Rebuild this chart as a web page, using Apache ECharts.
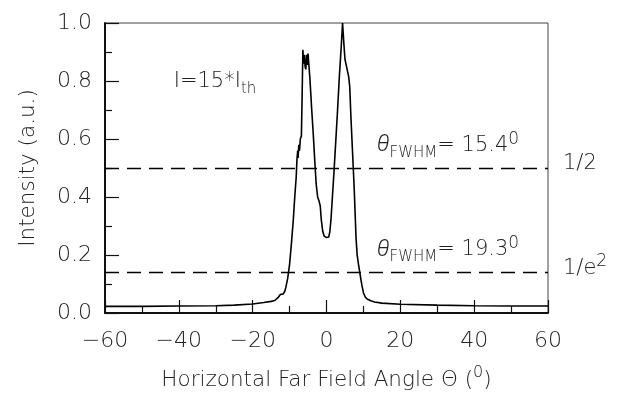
<!DOCTYPE html>
<html>
<head>
<meta charset="utf-8">
<script src="https://cdn.jsdelivr.net/npm/echarts@6/dist/echarts.min.js"></script>
<style>
  html, body { margin: 0; padding: 0; background: #fff; }
  #chart { width: 626px; height: 396px; }
</style>
</head>
<body>
<div id="chart"></div>
<script>
// Far-field profile: angle (degrees) vs normalised intensity
const angles = [
  -60, -50, -40, -30, -25, -20, -17, -15, -14, -13, -12.5, -12, -11.7, -11.3, -11,
  -10.5, -10, -9.5, -9, -8.6, -8.2, -8.0, -7.8, -7.7, -7.5, -7.3, -7.1, -6.8, -6.6,
  -6.4, -6.2, -6.0, -5.8, -5.6, -5.4, -5.2, -5.0, -4.8, -4.5, -4.0, -3.6, -3.2, -2.8,
  -2.4, -2.0, -1.7, -1.4, -1.0, -0.6, 0, 0.6, 0.9, 1.2, 1.6, 2.0, 2.5, 3.0, 3.5, 4.0,
  4.35, 4.7, 5.0, 5.5, 6.0, 6.3, 6.6, 7.0, 7.5, 8.0, 8.3, 8.7, 9.2, 9.6, 10.0, 10.5,
  11, 12, 13, 15, 20, 30, 40, 50, 60
];
const intensity = [
  0.023, 0.023, 0.024, 0.025, 0.027, 0.031, 0.036, 0.040, 0.043, 0.055, 0.064, 0.068, 0.066, 0.075, 0.089,
  0.12, 0.168, 0.24, 0.32, 0.40, 0.47, 0.53, 0.56, 0.535, 0.58, 0.56, 0.60, 0.61, 0.75,
  0.908, 0.86, 0.89, 0.85, 0.84, 0.89, 0.855, 0.895, 0.86, 0.81, 0.70, 0.62, 0.53, 0.445,
  0.40, 0.385, 0.37, 0.32, 0.28, 0.265, 0.26, 0.262, 0.28, 0.32, 0.40, 0.48, 0.59, 0.70, 0.82, 0.92,
  1.0, 0.93, 0.875, 0.845, 0.815, 0.78, 0.68, 0.57, 0.43, 0.26, 0.20, 0.165, 0.125, 0.095, 0.07, 0.055,
  0.048, 0.042, 0.038, 0.034, 0.030, 0.027, 0.025, 0.024, 0.024
];

// Reference levels: half maximum and 1/e^2
const levelValues = [0.5, 1 / Math.E / Math.E];
const levelNames = ['{m|1/2}', '{m|1/e}{sup|2}'];
const fwhmTexts = ['15.4', '19.3'];
const fwhmAnchors = [[32.9, 0.577], [32.9, 0.218]];
const currentLabel = '{m|I=15*I}{sub|th}';
const currentAnchor = [-30.2, 0.797];

const FONT = 'DejaVu Sans';
const W = 200;
const INK = '#222';

const rich = {
  m:   { fontFamily: FONT, fontWeight: W, fontSize: 21, color: INK, lineHeight: 30, verticalAlign: 'middle' },
  it:  { fontFamily: 'Roboto', fontWeight: 300, fontStyle: 'italic', fontSize: 23, color: INK, lineHeight: 30, verticalAlign: 'middle' },
  sub: { fontFamily: FONT, fontWeight: W, fontSize: 15, color: INK, lineHeight: 15, verticalAlign: 'bottom' },
  sup: { fontFamily: FONT, fontWeight: W, fontSize: 17, color: INK, lineHeight: 17, verticalAlign: 'top' }
};
const richTitle = {
  m:   { fontFamily: FONT, fontWeight: W, fontSize: 21.5, color: INK, lineHeight: 30, verticalAlign: 'middle' },
  sup: { fontFamily: FONT, fontWeight: W, fontSize: 16, color: INK, lineHeight: 16, verticalAlign: 'top' }
};

const chart = echarts.init(document.getElementById('chart'), null, { renderer: 'canvas' });

const seriesData = angles.map((a, i) => [a, intensity[i]]);

chart.setOption({
  animation: false,
  backgroundColor: '#fff',
  grid: {
    left: 105, right: 78, top: 23, bottom: 80,
    show: true, borderColor: '#444', borderWidth: 1, backgroundColor: 'transparent'
  },
  xAxis: {
    type: 'value', min: -60, max: 60, interval: 20,
    axisLine: { show: true, onZero: false, lineStyle: { color: '#111', width: 2 } },
    axisTick: { show: true, inside: true, length: 13, lineStyle: { color: '#111', width: 1.2 } },
    minorTick: { show: true, splitNumber: 2, length: 7, lineStyle: { color: '#111', width: 1.2 } },
    splitLine: { show: false },
    axisLabel: {
      margin: 17, fontFamily: FONT, fontWeight: W, fontSize: 22, color: INK,
      formatter: v => (v < 0 ? '\u2212' + Math.abs(v) : String(v))
    },
    name: '{m|Horizontal Far Field Angle \u0398 (}{sup|0}{m|)}',
    nameLocation: 'middle', nameGap: 52,
    nameTextStyle: { rich: richTitle }
  },
  yAxis: {
    type: 'value', min: 0, max: 1, interval: 0.2,
    axisLine: { show: true, onZero: false, lineStyle: { color: '#111', width: 2 } },
    axisTick: { show: true, inside: true, length: 14, lineStyle: { color: '#111', width: 1.2 } },
    minorTick: { show: true, splitNumber: 2, length: 7, lineStyle: { color: '#111', width: 1.2 } },
    splitLine: { show: false },
    axisLabel: {
      margin: 13, fontFamily: FONT, fontWeight: W, fontSize: 22, color: INK,
      formatter: v => v.toFixed(1)
    },
    name: 'Intensity (a.u.)',
    nameLocation: 'middle', nameGap: 66,
    nameTextStyle: { fontFamily: FONT, fontWeight: W, fontSize: 21.5, color: INK }
  },
  series: [{
    type: 'line',
    data: seriesData,
    showSymbol: false,
    smooth: false,
    lineStyle: { color: '#000', width: 1.6 },
    z: 3,
    markLine: {
      silent: true,
      symbol: ['none', 'none'],
      lineStyle: { color: '#000', width: 1.3, type: [14, 8] },
      label: { show: true, position: 'end', distance: 15, offset: [0, -4], rich: rich },
      data: levelValues.map((v, i) => ({
        yAxis: v,
        label: { formatter: levelNames[i] }
      }))
    },
    markPoint: {
      silent: true,
      symbol: 'circle',
      symbolSize: 1,
      itemStyle: { color: 'rgba(0,0,0,0)' },
      label: { show: true, position: 'inside', rich: rich },
      data: fwhmAnchors.map((c, i) => ({
        coord: c,
        label: { formatter: '{it|\u03B8}{sub|FWHM}{m|= ' + fwhmTexts[i] + '}{sup|0}' }
      })).concat([{
        coord: currentAnchor,
        label: { formatter: currentLabel }
      }])
    }
  }]
});
</script>
</body>
</html>
